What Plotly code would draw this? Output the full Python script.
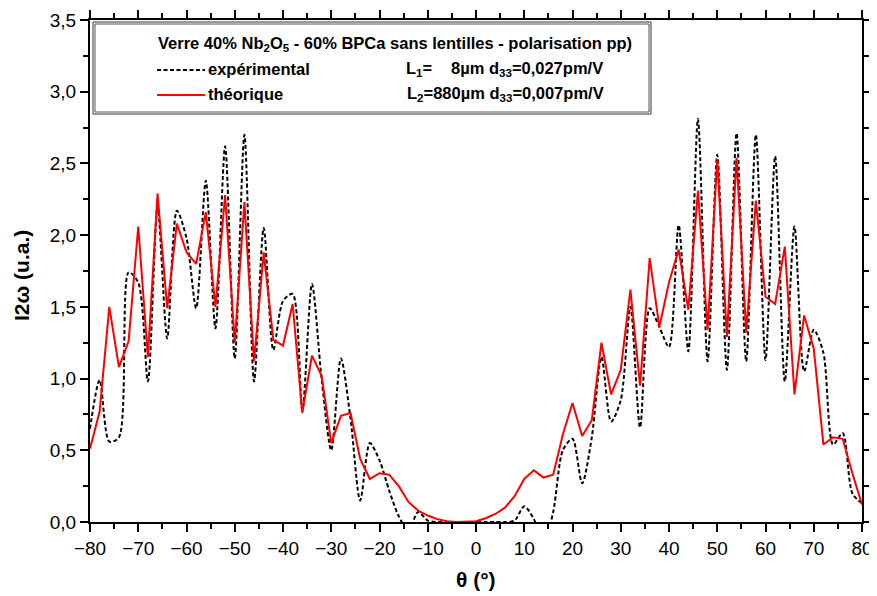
import plotly.graph_objects as go

theta = list(range(-80, 82, 2))

experimental = [0.65, 0.99, 0.56, 0.59, 1.74, 1.67, 0.98, 2.20, 1.28, 2.17,
                1.98, 1.49, 2.38, 1.35, 2.62, 1.14, 2.70, 0.98, 2.05, 1.20,
                1.54, 1.59, 0.78, 1.66, 1.00, 0.50, 1.14, 0.72, 0.15, 0.55,
                0.43, 0.22, 0.04, -0.06, 0.07, 0.01, 0.0, 0.0, 0.0, 0.0,
                0.0, 0.0, 0.0, 0.0, 0.01, 0.11, 0.02, -0.15, 0.07, 0.50,
                0.58, 0.27, 0.59, 1.15, 0.70, 0.85, 1.50, 0.66, 1.49, 1.36,
                1.22, 2.07, 1.19, 2.81, 1.12, 2.56, 1.06, 2.71, 1.12, 2.70,
                1.13, 2.55, 0.98, 2.06, 1.05, 1.34, 1.18, 0.54, 0.62, 0.20,
                0.13]

theorique = [0.51, 0.77, 1.50, 1.08, 1.26, 2.06, 1.15, 2.29, 1.49, 2.08,
             1.88, 1.80, 2.16, 1.50, 2.28, 1.25, 2.23, 1.12, 1.88, 1.27,
             1.23, 1.52, 0.76, 1.16, 1.02, 0.55, 0.74, 0.76, 0.44, 0.30,
             0.34, 0.33, 0.25, 0.14, 0.08, 0.045, 0.02, 0.005, 0.0, 0.0,
             0.005, 0.026, 0.056, 0.10, 0.18, 0.30, 0.36, 0.31, 0.33, 0.61,
             0.83, 0.60, 0.71, 1.25, 0.89, 1.06, 1.62, 0.95, 1.84, 1.36,
             1.67, 1.90, 1.48, 2.31, 1.34, 2.53, 1.29, 2.54, 1.32, 2.24,
             1.57, 1.52, 1.92, 0.89, 1.44, 1.21, 0.54, 0.59, 0.58, 0.34,
             0.12]

FONT = "Arial, Liberation Sans, sans-serif"

fig = go.Figure()
fig.add_trace(go.Scatter(x=theta, y=experimental, mode="lines",
                         line=dict(color="black", width=2, dash="4px,2.5px",
                                   shape="spline", smoothing=0.8),
                         showlegend=False))
fig.add_trace(go.Scatter(x=theta, y=theorique, mode="lines",
                         line=dict(color="#ff0000", width=2),
                         showlegend=False))

# plot area in screenshot pixels (page body has an 8px margin)
OFF = 8
L, R, T, B = 90, 862, 20, 522
W, H = R - L, B - T
FW, FH = 877 - OFF, 596 - OFF

def px(x):
    return (x - L) / W

def py(y):
    return (B - y) / H

shapes = [
    dict(type="rect", xref="paper", yref="paper", x0=px(93), x1=px(651), y0=py(114), y1=py(22),
         line=dict(color="#333", width=1), fillcolor="white", layer="above"),
    dict(type="rect", xref="paper", yref="paper", x0=px(95), x1=px(649), y0=py(112), y1=py(24),
         line=dict(color="#555", width=1), layer="above"),
    dict(type="line", xref="paper", yref="paper", x0=px(157), x1=px(205), y0=py(70), y1=py(70),
         line=dict(color="black", width=2, dash="4px,2.5px"), layer="above"),
    dict(type="line", xref="paper", yref="paper", x0=px(157), x1=px(205), y0=py(95), y1=py(95),
         line=dict(color="#ff0000", width=2), layer="above"),
]

def ann(text, x, y, size=16.5, xanchor="left"):
    return dict(text=text, xref="paper", yref="paper", x=px(x), y=py(y),
                xanchor=xanchor, yanchor="middle", showarrow=False,
                font=dict(family=FONT, size=size, color="black"))

annotations = [
    ann("<b>Verre 40% Nb<sub>2</sub>O<sub>5</sub> - 60% BPCa sans lentilles - polarisation pp)</b>", 156, 44),
    ann("<b>expérimental</b>", 206, 69),
    ann("<b>L<sub>1</sub>=</b>", 404, 69),
    ann("<b>8µm d<sub>33</sub>=0,027pm/V</b>", 449, 69),
    ann("<b>théorique</b>", 206, 94),
    ann("<b>L<sub>2</sub>=880µm d<sub>33</sub>=0,007pm/V</b>", 405, 94),
    dict(text="<b>I2\u03c9 (u.a.)</b>", xref="paper", yref="paper", x=px(21), y=py(276),
         xanchor="center", yanchor="middle", textangle=-90, showarrow=False,
         font=dict(family=FONT, size=21, color="black")),
    dict(text="<b>\u03b8 (°)</b>", xref="paper", yref="paper", x=px(476), y=py(579),
         xanchor="center", yanchor="middle", showarrow=False,
         font=dict(family=FONT, size=21, color="black")),
]

fig.update_layout(
    width=FW, height=FH,
    margin=dict(l=L - OFF, r=FW - (R - OFF), t=T - OFF, b=FH - (B - OFF), autoexpand=False),
    paper_bgcolor="white", plot_bgcolor="white",
    separators=", ",
    font=dict(family=FONT, size=19, color="black"),
    shapes=shapes, annotations=annotations,
)
fig.update_xaxes(range=[-80, 80], tickmode="linear", tick0=-80, dtick=10,
                 automargin=False,
                 ticks="outside", ticklen=8, tickwidth=2, tickcolor="black",
                 minor=dict(ticks="outside", ticklen=5, tickwidth=2, dtick=5, tickcolor="black"),
                 showline=True, linewidth=2, linecolor="black", mirror="ticks",
                 showgrid=False, zeroline=False,
                 tickfont=dict(family=FONT, size=19, color="black"))
fig.update_yaxes(range=[0, 3.5], tickmode="linear", tick0=0, dtick=0.5,
                 tickformat=".1f", automargin=False,
                 ticks="outside", ticklen=8, tickwidth=2, tickcolor="black",
                 minor=dict(ticks="outside", ticklen=5, tickwidth=2, dtick=0.25, tickcolor="black"),
                 showline=True, linewidth=2, linecolor="black", mirror="ticks",
                 showgrid=False, zeroline=False,
                 tickfont=dict(family=FONT, size=19, color="black"))

fig.write_html("out.html")
